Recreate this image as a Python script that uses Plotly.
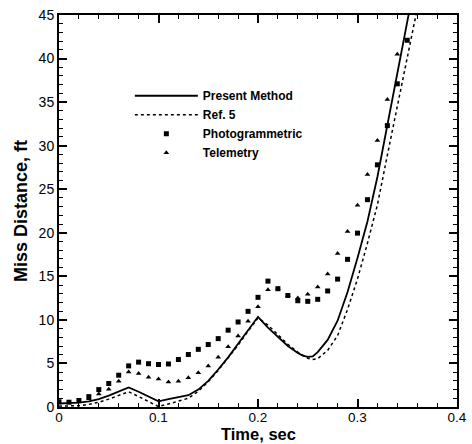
import plotly.graph_objects as go

# ---- data ----
t_present = [0.0, 0.02, 0.03, 0.04, 0.05, 0.06, 0.07, 0.08, 0.09, 0.10, 0.11, 0.12, 0.13,
             0.14, 0.15, 0.16, 0.17, 0.18, 0.19, 0.20, 0.21, 0.22, 0.23, 0.24, 0.245, 0.25,
             0.255, 0.26, 0.27, 0.28, 0.29, 0.30, 0.31, 0.32, 0.33, 0.34, 0.35, 0.355]
y_present = [0.4, 0.5, 0.65, 0.9, 1.3, 1.75, 2.25, 1.75, 1.2, 0.65, 0.9, 1.1, 1.35,
             2.0, 3.0, 4.3, 5.7, 7.25, 8.8, 10.35, 9.1, 8.0, 7.0, 6.2, 5.9, 5.75,
             5.8, 6.3, 7.7, 9.9, 13.2, 17.1, 21.3, 26.4, 32.3, 38.3, 44.2, 47.2]

t_ref5 = [0.0, 0.02, 0.03, 0.04, 0.05, 0.06, 0.07, 0.08, 0.09, 0.10, 0.11, 0.12, 0.13,
          0.14, 0.15, 0.16, 0.17, 0.18, 0.19, 0.20, 0.21, 0.22, 0.23, 0.24, 0.25, 0.255,
          0.26, 0.27, 0.28, 0.29, 0.30, 0.31, 0.32, 0.33, 0.34, 0.35, 0.36]
y_ref5 = [0.1, 0.15, 0.3, 0.55, 0.9, 1.3, 1.75, 1.2, 0.6, 0.05, 0.35, 0.7, 1.0,
          1.8, 2.9, 4.2, 5.6, 7.1, 8.7, 10.2, 9.4, 8.3, 7.2, 6.3, 5.6, 5.45,
          5.55, 6.5, 8.2, 11.2, 14.7, 18.8, 23.2, 28.9, 34.6, 40.1, 45.7]

t_photo = [0.00, 0.01, 0.02, 0.03, 0.04, 0.05, 0.06, 0.07, 0.08, 0.09, 0.10, 0.11,
           0.12, 0.13, 0.14, 0.15, 0.16, 0.17, 0.18, 0.19, 0.20, 0.21, 0.22, 0.23,
           0.24, 0.25, 0.26, 0.27, 0.28, 0.29, 0.30, 0.31, 0.32, 0.33, 0.34, 0.35]
y_photo = [0.6, 0.55, 0.75, 1.19, 2.0, 2.7, 3.65, 4.72, 5.15, 4.97, 4.88, 4.94,
           5.45, 6.03, 6.62, 7.17, 7.85, 8.82, 9.76, 10.98, 12.59, 14.45, 13.58, 12.8,
           12.2, 12.13, 12.36, 13.32, 14.68, 16.95, 19.96, 23.8, 27.8, 32.3, 37.1, 42.1]

t_telem = [0.03, 0.04, 0.05, 0.06, 0.07, 0.08, 0.09, 0.10, 0.11, 0.12, 0.13, 0.14,
           0.15, 0.16, 0.17, 0.18, 0.19, 0.20, 0.21, 0.22, 0.23, 0.24, 0.25, 0.26,
           0.27, 0.28, 0.29, 0.30, 0.31, 0.32, 0.33, 0.34]
y_telem = [0.95, 1.5, 2.05, 2.95, 4.03, 3.85, 3.42, 3.2, 2.87, 2.95, 3.37, 3.94,
           4.71, 5.72, 6.91, 8.15, 9.83, 11.52, 13.45, 13.6, 12.8, 12.5, 12.94, 13.77,
           15.28, 17.62, 20.15, 23.15, 26.7, 30.6, 35.3, 40.5]

x_ticks = [0, 0.1, 0.2, 0.3, 0.4]
x_ticklabels = ["0", "0.1", "0.2", "0.3", "0.4"]
y_ticks = [0, 5, 10, 15, 20, 25, 30, 35, 40, 45]
x_title = "Time, sec"
y_title = "Miss Distance, ft"

FONT = "Liberation Sans, Arial, sans-serif"

fig = go.Figure()
fig.add_trace(go.Scatter(x=t_present, y=y_present, mode="lines", name="Present Method",
                         line=dict(color="black", width=1.8)))
fig.add_trace(go.Scatter(x=t_ref5, y=y_ref5, mode="lines", name="Ref. 5",
                         line=dict(color="black", width=1.5, dash="dot")))
fig.add_trace(go.Scatter(x=t_photo, y=y_photo, mode="markers", name="Photogrammetric",
                         marker=dict(symbol="square", size=5, color="black")))
fig.add_trace(go.Scatter(x=t_telem, y=y_telem, mode="markers", name="Telemetry",
                         marker=dict(symbol="triangle-up", size=5, color="black")))

axis_common = dict(
    showline=True, linecolor="black", linewidth=2, mirror="allticks",
    ticks="inside", tickcolor="black", tickwidth=1.5, ticklen=8,
    showgrid=False, zeroline=False, automargin=False,
    tickfont=dict(family=FONT, size=14, color="black"),
)

fig.update_xaxes(range=[0, 0.4], tickvals=x_ticks, ticktext=x_ticklabels,
                 minor=dict(ticks="inside", ticklen=4, dtick=0.02, tickcolor="black", tickwidth=1),
                 **axis_common)
fig.update_xaxes(tickfont=dict(size=13.5), ticklabelstandoff=-3)
fig.update_yaxes(range=[0, 45], tickvals=y_ticks,
                 minor=dict(ticks="inside", ticklen=4, dtick=1, tickcolor="black", tickwidth=1),
                 title=dict(text=y_title, font=dict(family=FONT, size=18, color="black", weight="bold"),
                            standoff=6),
                 **axis_common)

fig.add_annotation(text=x_title, xref="paper", yref="paper", x=0.5, y=0,
                   xanchor="center", yanchor="bottom", yshift=-37, showarrow=False,
                   borderpad=0,
                   font=dict(family=FONT, size=16.5, color="black", weight="bold"))

fig.update_layout(
    width=472, height=444,
    margin=dict(l=59, r=15, t=15, b=37),
    paper_bgcolor="white", plot_bgcolor="white",
    showlegend=True,
    legend=dict(x=0.178, y=0.831, xanchor="left", yanchor="top",
                bgcolor="rgba(0,0,0,0)", borderwidth=0, itemwidth=63,
                font=dict(family=FONT, size=12, color="black", weight="bold"),
                tracegroupgap=0),
)

fig.write_html("out.html", config={"displayModeBar": False},
               post_script="document.body.style.margin='0';")
